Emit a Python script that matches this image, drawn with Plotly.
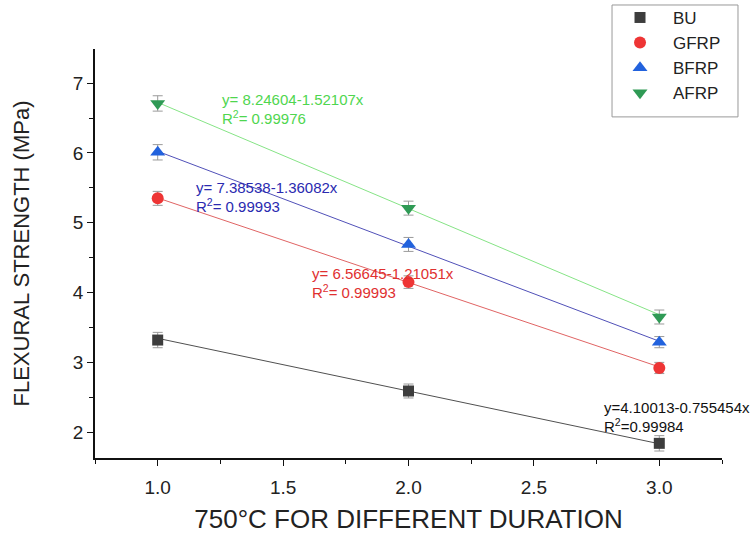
import plotly.graph_objects as go

durations = [1.0, 2.0, 3.0]
series_names = ["BU", "GFRP", "BFRP", "AFRP"]
bu = [3.32, 2.59, 1.84]
gfrp = [5.35, 4.15, 2.92]
bfrp = [6.01, 4.69, 3.29]
afrp = [6.71, 5.21, 3.65]
errors = {
    "BU": [0.11, 0.10, 0.11],
    "GFRP": [0.10, 0.09, 0.08],
    "BFRP": [0.11, 0.10, 0.08],
    "AFRP": [0.11, 0.10, 0.10],
}
intercepts = [4.10013, 6.56645, 7.38538, 8.24604]
slopes = [-0.755454, -1.21051, -1.36082, -1.52107]
eq_lines = [
    "y=4.10013-0.755454x",
    "y= 6.56645-1.21051x",
    "y= 7.38538-1.36082x",
    "y= 8.24604-1.52107x",
]
r2_lines = [
    "R<sup>2</sup>=0.99984",
    "R<sup>2</sup>= 0.99993",
    "R<sup>2</sup>= 0.99993",
    "R<sup>2</sup>= 0.99976",
]

values = [bu, gfrp, bfrp, afrp]
marker_colors = ["#3d3d3d", "#ee3535", "#2262dd", "#2f9a55"]
line_colors = ["#505050", "#e06464", "#5050b8", "#86e486"]
text_colors = ["#111111", "#e03030", "#2a2ab0", "#4fd64f"]
symbols = ["square", "circle", "triangle-up", "triangle-down"]
sizes = [11, 12, 13, 13]
# annotation anchor positions (data coords, left-middle of the two-line block)
ann_x = [2.773, 1.606, 1.143, 1.247]
ann_y = [2.23, 4.14, 5.38, 6.64]

fig = go.Figure()

for i, name in enumerate(series_names):
    fy = [intercepts[i] + slopes[i] * x for x in durations]
    fig.add_trace(go.Scatter(x=durations, y=fy, mode="lines",
                             line=dict(color=line_colors[i], width=1),
                             showlegend=False, hoverinfo="skip"))

for i, name in enumerate(series_names):
    fig.add_trace(go.Scatter(
        x=durations, y=values[i], mode="markers", name=name,
        marker=dict(symbol=symbols[i], size=sizes[i], color=marker_colors[i]),
        error_y=dict(type="data", array=errors[name], color="#9a9a9a",
                     thickness=1, width=5),
    ))

for i in range(4):
    for txt, shift in ((eq_lines[i], 9), (r2_lines[i], -9)):
        fig.add_annotation(x=ann_x[i], y=ann_y[i], text=txt, showarrow=False,
                           xanchor="left", yanchor="middle", align="left", yshift=shift,
                           font=dict(family="Liberation Sans, Arial", size=15, color=text_colors[i]))

# legend frame
fig.add_shape(type="rect", xref="paper", yref="paper",
              x0=0.8246, x1=1.0255, y0=0.834, y1=1.1076,
              line=dict(color="#999999", width=1), fillcolor="white", layer="below")

fig.update_layout(
    width=753, height=535,
    margin=dict(l=95, r=31, t=49, b=77, autoexpand=False),
    plot_bgcolor="white", paper_bgcolor="white",
    font=dict(family="Liberation Sans, Arial", color="#222222"),
    legend=dict(x=0.8166, y=1.12, xanchor="left", yanchor="top",
                font=dict(size=17, color="#222222"), bgcolor="rgba(0,0,0,0)",
                itemwidth=56, tracegroupgap=0),
    xaxis=dict(range=[0.75, 3.25], tickvals=[1.0, 1.5, 2.0, 2.5, 3.0],
               ticktext=["1.0", "1.5", "2.0", "2.5", "3.0"],
               showline=True, linecolor="#111111", linewidth=1.5,
               ticks="outside", ticklen=6, tickcolor="#111111",
               minor=dict(ticks="outside", ticklen=4, tickcolor="#111111", dtick=0.25),
               showgrid=False, zeroline=False, ticklabelstandoff=5,
               tickfont=dict(size=19),
               title=dict(text="750°C FOR DIFFERENT DURATION", font=dict(size=26), standoff=13)),
    yaxis=dict(range=[1.63, 7.49], tickvals=[2, 3, 4, 5, 6, 7],
               showline=True, linecolor="#111111", linewidth=1.5,
               ticks="outside", ticklen=6, tickcolor="#111111",
               minor=dict(ticks="outside", ticklen=4, tickcolor="#111111", dtick=0.5),
               showgrid=False, zeroline=False,
               tickfont=dict(size=19),
               title=dict(text="FLEXURAL STRENGTH (MPa)", font=dict(size=22), standoff=37)),
)

fig.write_html("out.html")
